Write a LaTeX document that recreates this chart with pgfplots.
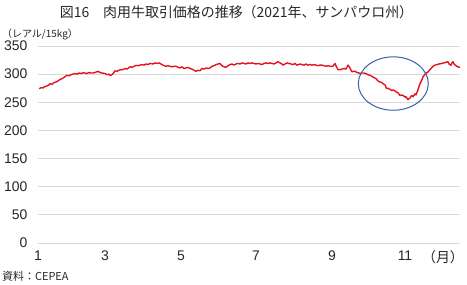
\documentclass[border=0pt]{standalone}
\usepackage{pgfplots}
\pgfplotsset{compat=1.18}
\usepackage{fontspec}
\setmainfont{Liberation Sans}
\newfontfamily\cjk{Noto Sans CJK JP}
\definecolor{linered}{HTML}{E3141F}
\definecolor{ellblue}{HTML}{3A5FA8}
\definecolor{gridgray}{HTML}{D9D9D9}
\definecolor{txt}{HTML}{262626}
\begin{document}
\begin{tikzpicture}
\begin{axis}[
  name=ax,
  scale only axis,
  width=422bp, height=197bp,
  xmin=0, xmax=422, ymin=0, ymax=350,
  axis line style={draw=none},
  major tick length=0pt,
  ytick={0,50,100,150,200,250,300,350},
  ymajorgrids,
  grid style={gridgray, line width=0.8bp},
  xtick={0,67,143,218,294,367,405},
  xticklabels={1,3,5,7,9,11,{\cjk （月）}},
  /pgf/number format/assume math mode=true,
  tick label style={font=\fontsize{14}{16}\selectfont, text=txt},
  yticklabel style={xshift=-7bp},
  xticklabel style={yshift=-4bp},
  clip=false,
]
\addplot[linered, line width=1.4bp, line join=round] coordinates {
(1.3,274)(3,276)(5,275.5)(7,278)(9,279)(11,281)(12,283)(14,282)(16,285)(18,286)
(20,288)(22,290.5)(24,292)(26,294)(28,297)(29,298)(31,297)(33,299)(35,300)(37,301)
(39,300)(41,302)(43,301)(45,302.5)(47,302)(49,301)(51,303)(53,302)(55,302)(57,303)
(60,305)(62,303)(64,302)(67,301)(69,299)(71,300)(72,297.5)(74,299)(76,303)(77,306)
(79,305)(81,307)(83,308)(85,308)(87,310)(89,309)(92,313)(94,312)(96,314)(98,315.5)
(100,315)(102,316)(104,317)(106,316)(108,318)(110,317)(112,319)(115,318)(117,320)(119,319)
(121,320)(123,318)(124,317)(126,315)(128,314)(130,315)(132,314)(134,313)(136,314)(138,314)
(140,312)(142,311)(144,313)(146,310)(148,311)(150,312)(152,310)(154,309)(156,307)(158,305)
(160,307)(162,306)(164,310)(166,309)(168,311)(170,310)(172,311)(174,314)(176,315)(178,317)
(180,318)(182,319)(184,315)(186,313)(188,312)(190,315)(192,317)(194,318)(196,316)(198,318)
(200,319)(202,318)(204,320)(206,319)(208,318)(210,320)(212,319)(214,320)(216,319)(218,318)
(220,319)(222,318)(224,317)(226,319)(228,320)(230,319)(232,320)(234,319)(236,318)(238,320)
(240,322)(242,320)(244,318)(245,316)(247,318)(249,320)(251,319)(253,318)(255,317)(257,319)
(259,316)(262,318)(264,317)(266,316)(268,318)(270,316)(272,317)(274,316)(276,317)(278,316)
(280,315)(282,316)(284,316)(286,315)(288,314)(290,315)(292,314)(295,314)(297,319)(299,311)
(300,308)(302,308)(304,309)(306,310)(308,309)(310,316)(312,311)(313,307)(314,304)(315,305)
(317,305)(319,303)(321,302)(322,301)(324,302)(326,302)(328,301)(330,299)(332,298)(334,296)
(336,294)(338,292)(340,288)(342,286)(344,285)(345,283)(347,281)(348.7,274)(350,275)(352,273)
(353.7,271)(355,272)(357,270)(358.7,268)(360,267)(362,262)(364,263)(366,261)(367,259)(368,260)
(370,254.6)(372,258)(373.7,262)(375,260)(377,265)(378,263)(379.7,271)(381,278)(382,283)(384,290)
(385,295)(387,300)(390,304)(392,308)(395,314)(397,316)(399,317)(401,318)(403.7,319)(406,320)
(408,321)(410,322)(411,318)(413,316)(414,320)(415,322)(416,318)(418.7,314)(420,313)(422,312)
};
\draw[ellblue, line width=1bp] (axis cs:355.3,283.3) ellipse [x radius=35bp, y radius=26.7bp];
\end{axis}
\node[font=\cjk\fontsize{14}{16}\selectfont, text=txt] at ([xshift=198.5bp,yshift=34bp]ax.north west) {図16　肉用牛取引価格の推移（2021年、サンパウロ州）};
\node[font=\cjk\fontsize{10}{12}\selectfont, text=txt, anchor=west, inner sep=0pt] at ([xshift=-36bp,yshift=12bp]ax.north west) {（レアル/15kg）};
\node[font=\cjk\fontsize{11}{13}\selectfont, text=txt, anchor=west, inner sep=0pt] at ([xshift=-36bp,yshift=-33bp]ax.south west) {資料：CEPEA};
\pgfresetboundingbox
\path ([xshift=-38bp,yshift=-42bp]ax.south west) rectangle ([xshift=7bp,yshift=46bp]ax.north east);
\end{tikzpicture}
\end{document}
